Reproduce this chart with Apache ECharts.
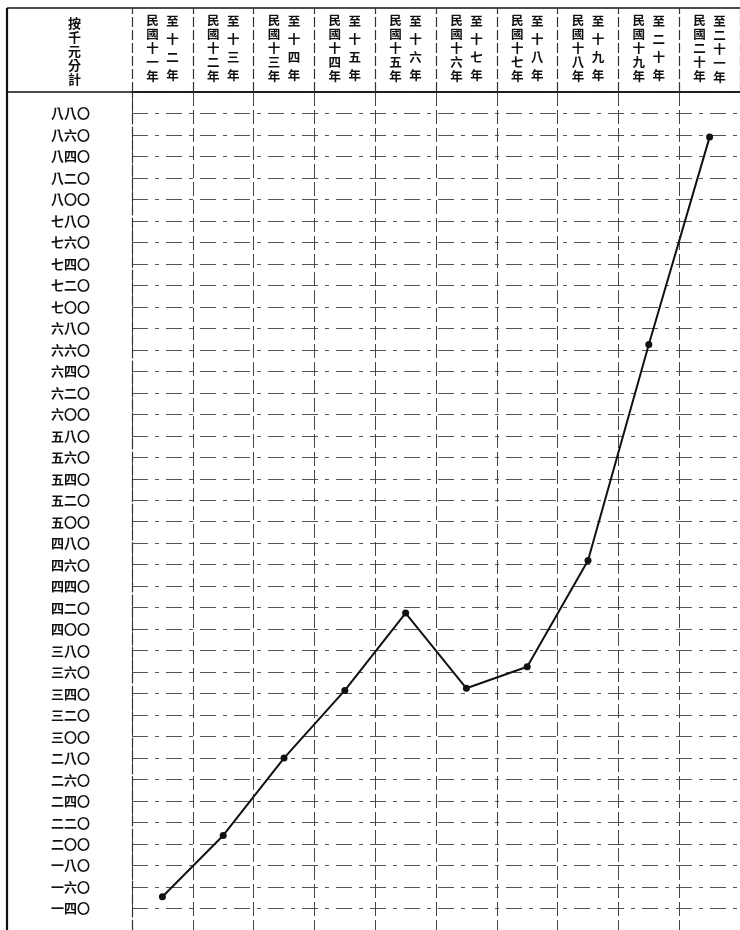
<!DOCTYPE html>
<html>
<head>
<meta charset="utf-8">
<script src="https://cdn.jsdelivr.net/npm/echarts@6/dist/echarts.min.js"></script>
<style>
html,body{margin:0;padding:0;background:#fff;}
#chart{width:740px;height:930px;}
</style>
</head>
<body>
<div id="chart"></div>
<script>
// Categories: each fiscal year label is split into two vertical columns
var catStart = ['民國十一年','民國十二年','民國十三年','民國十四年','民國十五年','民國十六年','民國十七年','民國十八年','民國十九年','民國二十年'];
var catEnd   = ['至十二年','至十三年','至十四年','至十五年','至十六年','至十七年','至十八年','至十九年','至二十年','至二十一年'];
// Values in thousands of yuan (按千元分計)
var values = [151, 208, 280, 343, 415, 345, 365, 464, 665, 858];
// Y tick labels from 140 to 880 step 20
var yTickValues = [140,160,180,200,220,240,260,280,300,320,340,360,380,400,420,440,460,480,500,520,540,560,580,600,620,640,660,680,700,720,740,760,780,800,820,840,860,880];
var yTickLabels = ['一四〇','一六〇','一八〇','二〇〇','二二〇','二四〇','二六〇','二八〇','三〇〇','三二〇','三四〇','三六〇','三八〇','四〇〇','四二〇','四四〇','四六〇','四八〇','五〇〇','五二〇','五四〇','五六〇','五八〇','六〇〇','六二〇','六四〇','六六〇','六八〇','七〇〇','七二〇','七四〇','七六〇','七八〇','八〇〇','八二〇','八四〇','八六〇','八八〇'];
var unitTitle = '按千元分計';

var FONT = '"Noto Sans CJK TC", "Noto Sans CJK SC", sans-serif';
var ink = '#111';

function vert(s){ return s.split('').join('\n'); }

var chart = echarts.init(document.getElementById('chart'));
chart.setOption({
  backgroundColor: '#fff',
  animation: false,
  title: {
    text: vert(unitTitle),
    left: 63, top: 11,
    textStyle: {fontFamily: FONT, fontSize: 13, fontWeight: 'bold', lineHeight: 14, color: ink}
  },
  grid: {left: 132, top: 92, width: 611, height: 838, containLabel: false},
  xAxis: [{
    type: 'category',
    position: 'top',
    data: catStart,
    boundaryGap: true,
    axisLine: {show: true, lineStyle: {color: ink, width: 1.5}},
    axisTick: {show: true, inside: false, length: 84, lineStyle: {color: '#333', width: 1.2, type: [10, 3]}},
    splitLine: {show: true, lineStyle: {color: '#444', width: 1, type: [14, 4]}},
    axisLabel: {
      interval: 0, margin: 9,
      formatter: function(v){ return vert(v); },
      padding: [0, 20, 0, 0],
      fontFamily: FONT, fontSize: 12.5, fontWeight: 'bold', lineHeight: 14, color: ink
    }
  }, {
    type: 'category',
    position: 'top',
    data: catEnd,
    boundaryGap: true,
    axisLine: {show: false},
    axisTick: {show: false},
    splitLine: {show: false},
    axisLabel: {
      interval: 0, margin: 8,
      formatter: function(v){ return v.length >= 5 ? '{f|' + vert(v) + '}' : '{g|' + vert(v) + '}'; },
      padding: [0, 0, 0, 20],
      rich: {
        f: {fontFamily: FONT, fontSize: 12.5, fontWeight: 'bold', lineHeight: 14, color: ink},
        g: {fontFamily: FONT, fontSize: 12.5, fontWeight: 'bold', lineHeight: 18, color: ink}
      }
    }
  }],
  yAxis: {
    type: 'value',
    min: 120, max: 900, interval: 20,
    axisLine: {show: true, lineStyle: {color: '#333', width: 1.2, type: [10, 3]}},
    axisTick: {show: false},
    splitLine: {show: true, lineStyle: {color: '#555', width: 1, type: [16, 7, 4, 7]}},
    axisLabel: {
      margin: 42,
      formatter: function(v){
        var i = yTickValues.indexOf(v);
        return i >= 0 ? yTickLabels[i] : '';
      },
      fontFamily: FONT, fontSize: 13, fontWeight: 'bold', color: ink
    }
  },
  graphic: [
    {type: 'line', shape: {x1: 7, y1: 8, x2: 7, y2: 930}, style: {stroke: ink, lineWidth: 2.2}},
    {type: 'line', shape: {x1: 7, y1: 8, x2: 740, y2: 8}, style: {stroke: ink, lineWidth: 1.4}},
    {type: 'line', shape: {x1: 7, y1: 92, x2: 740, y2: 92}, style: {stroke: ink, lineWidth: 1.4}}
  ],
  series: [{
    type: 'line',
    xAxisIndex: 0,
    data: values,
    symbol: 'circle',
    symbolSize: 7,
    lineStyle: {color: ink, width: 2},
    itemStyle: {color: ink},
    z: 5
  }]
});
</script>
</body>
</html>
